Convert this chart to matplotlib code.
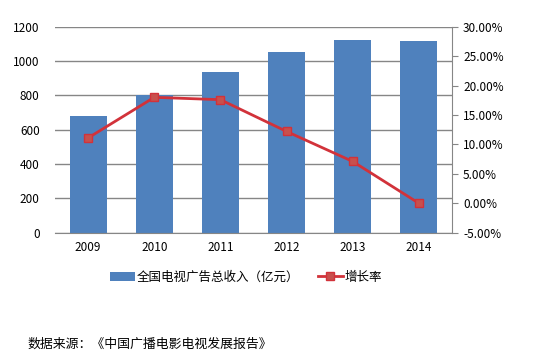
import matplotlib
matplotlib.use("Agg")
import matplotlib.pyplot as plt
from matplotlib.ticker import FuncFormatter

plt.rcParams['font.family'] = ['Noto Sans CJK SC', 'DejaVu Sans']

years = ["2009", "2010", "2011", "2012", "2013", "2014"]
revenue = [680, 802, 938, 1053, 1124, 1117]
growth = [11.1, 18.0, 17.6, 12.2, 7.1, 0.0]
bar_label = "全国电视广告总收入（亿元）"
line_label = "增长率"
source = "数据来源：《中国广播电影电视发展报告》"

bar_color = "#4F81BD"
line_color = "#D2323A"
marker_face = "#C8504D"
grid_color = "#868686"

fig = plt.figure(figsize=(5.58, 3.56), dpi=100)
ax = fig.add_axes([55/558, 1-232.7/356, 397/558, 206/356])
x = range(len(years))
bars = ax.bar(x, revenue, width=0.56, color=bar_color, zorder=2, label=bar_label)
ax.set_xlim(-0.5, len(years)-0.5)
ax.set_ylim(0, 1200)
ax.set_yticks(range(0, 1201, 200))
ax.yaxis.grid(True, color=grid_color, linewidth=1, zorder=0)
ax.set_axisbelow(True)
for s in ["top", "left", "right"]:
    ax.spines[s].set_visible(False)
ax.spines["bottom"].set_color(grid_color)
ax.set_xticks(list(x))
ax.set_xticklabels(years)
ax.tick_params(axis="both", length=0, labelsize=8.5, colors="black", pad=6)
ax.tick_params(axis="y", pad=11)

ax2 = ax.twinx()
ln, = ax2.plot(list(x), growth, color=line_color, linewidth=2, marker="s",
               markersize=6, markerfacecolor=marker_face, markeredgecolor=line_color,
               label=line_label, zorder=3)
ax2.set_ylim(-5, 30)
ax2.set_yticks(range(-5, 31, 5))
ax2.yaxis.set_major_formatter(FuncFormatter(lambda v, p: f"{v:.2f}%"))
for s in ["top", "left", "bottom"]:
    ax2.spines[s].set_visible(False)
ax2.spines["right"].set_color(grid_color)
ax2.tick_params(axis="y", length=4, color=grid_color, labelsize=8.5, pad=4, direction="out")

fig.legend([bars, ln], [bar_label, line_label], loc="center", bbox_to_anchor=(246/558, 1-277/356),
           ncol=2, frameon=False, fontsize=9, handlelength=2.0, handletextpad=0.15, columnspacing=1.5)

fig.text(27/558, 1-344/356, source, fontsize=9.3, va="center", ha="left")

fig.savefig("out.png", dpi=100)
